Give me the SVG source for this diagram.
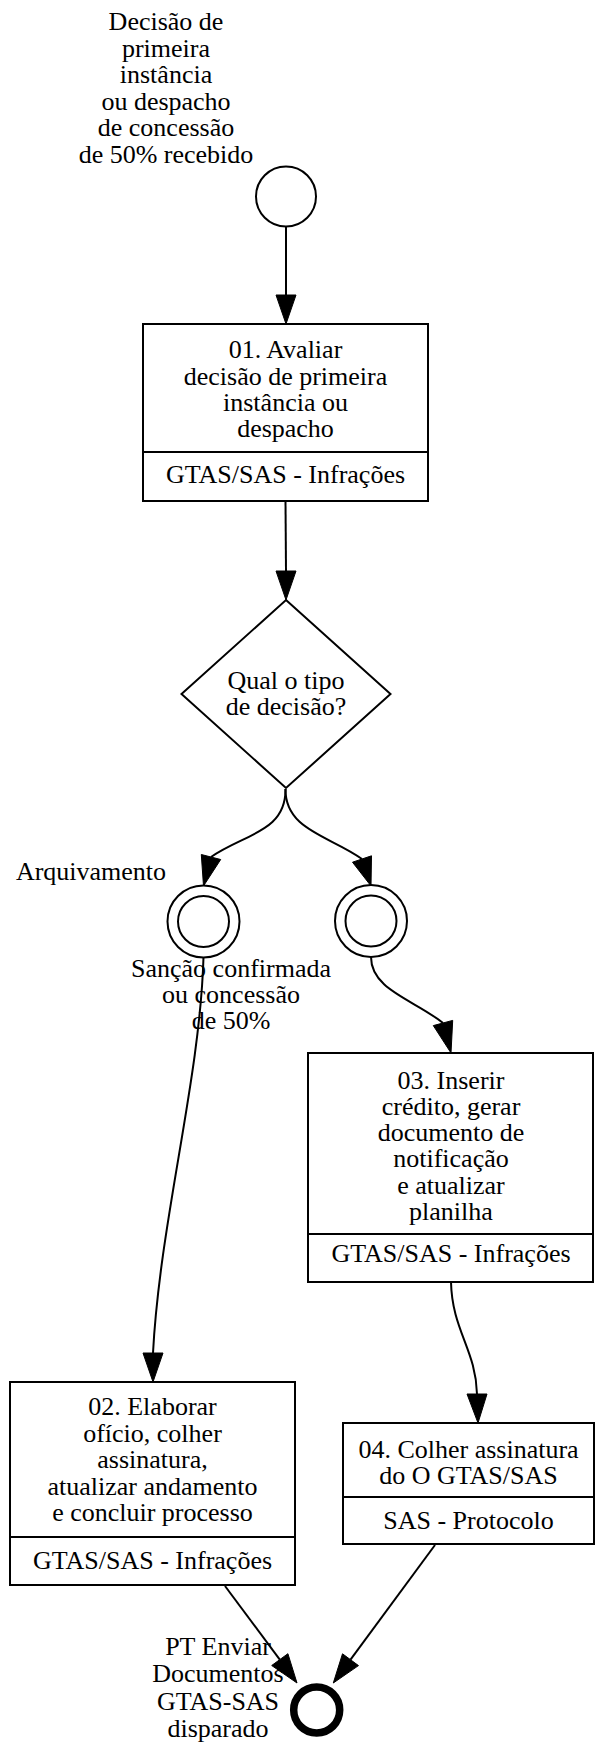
<svg xmlns="http://www.w3.org/2000/svg" width="599" height="1742" viewBox="0 0 599 1742">
<style>
text{font-family:"Liberation Serif","Times New Roman",serif;font-size:26px;fill:#000;text-anchor:middle}
.n{fill:#fff;stroke:#000;stroke-width:2}
.e{fill:none;stroke:#000;stroke-width:2}
.h{fill:#000;stroke:#000;stroke-width:1}
</style>
<rect width="599" height="1742" fill="#fff"/>
<g id="connectors">
<path class="e" d="M286,226.5 L286,295"/>
<polygon class="h" points="276,295 286,324 296,295"/>
<path class="e" d="M285.5,501 L286,571"/>
<polygon class="h" points="276,571 286,600 296,571"/>
<path class="e" d="M285.5,789 C286,832 244,834 211,857"/>
<polygon class="h" points="201.3,854.5 203.5,886 220.7,859.5"/>
<path class="e" d="M285.5,789 C285,830 330,836 362,859"/>
<polygon class="h" points="352.5,862.2 371,886 371.5,855.8"/>
<path class="e" d="M371,957 C371,990 415,1000 443,1023"/>
<polygon class="h" points="433.3,1025.6 451,1053 452.7,1020.4"/>
<path class="e" d="M203.5,957 C200,1080 160,1220 153,1353"/>
<polygon class="h" points="143,1353 153,1382 163,1353"/>
<path class="e" d="M451,1282 C452,1330 476,1350 477,1394"/>
<polygon class="h" points="467,1394 478,1423 487,1394"/>
<path class="e" d="M225,1586 L279.8,1659.6"/>
<polygon class="h" points="271.7,1665.5 297,1683 287.9,1653.7"/>
<path class="e" d="M435,1545 L350.5,1659.7"/>
<polygon class="h" points="342.5,1653.8 333.3,1683 358.5,1665.6"/>
</g>
<g id="start">
<circle class="n" cx="286" cy="196.5" r="30"/>
<text x="166" y="30">Decisão de</text>
<text x="166" y="56.5">primeira</text>
<text x="166" y="83">instância</text>
<text x="166" y="109.5">ou despacho</text>
<text x="166" y="136">de concessão</text>
<text x="166" y="163">de 50% recebido</text>
</g>
<g id="task01">
<rect class="n" x="143" y="324" width="285" height="177"/>
<line class="e" x1="143" y1="452" x2="428" y2="452"/>
<text x="285.5" y="358">01. Avaliar</text>
<text x="285.5" y="384.5">decisão de primeira</text>
<text x="285.5" y="411">instância ou</text>
<text x="285.5" y="437">despacho</text>
<text x="285.5" y="483">GTAS/SAS - Infrações</text>
</g>
<g id="gateway">
<polygon class="n" points="286,600 390.5,694 286,788 181.5,694"/>
<text x="286" y="689">Qual o tipo</text>
<text x="286" y="715">de decisão?</text>
</g>
<g id="event-arquivamento">
<circle class="n" cx="203.5" cy="921.5" r="36"/>
<circle class="n" cx="203.5" cy="921.5" r="25.5"/>
<text x="91" y="880">Arquivamento</text>
</g>
<g id="event-sancao">
<circle class="n" cx="371" cy="921" r="36"/>
<circle class="n" cx="371" cy="921" r="25.5"/>
<text x="231" y="977">Sanção confirmada</text>
<text x="231" y="1003">ou concessão</text>
<text x="231" y="1029">de 50%</text>
</g>
<g id="task03">
<rect class="n" x="308" y="1053" width="285" height="229"/>
<line class="e" x1="308" y1="1234" x2="593" y2="1234"/>
<text x="451" y="1089">03. Inserir</text>
<text x="451" y="1115">crédito, gerar</text>
<text x="451" y="1141">documento de</text>
<text x="451" y="1167">notificação</text>
<text x="451" y="1194">e atualizar</text>
<text x="451" y="1220">planilha</text>
<text x="451" y="1262">GTAS/SAS - Infrações</text>
</g>
<g id="task02">
<rect class="n" x="10" y="1382" width="285" height="203"/>
<line class="e" x1="10" y1="1537" x2="295" y2="1537"/>
<text x="152.5" y="1415">02. Elaborar</text>
<text x="152.5" y="1441.5">ofício, colher</text>
<text x="152.5" y="1468">assinatura,</text>
<text x="152.5" y="1494.5">atualizar andamento</text>
<text x="152.5" y="1521">e concluir processo</text>
<text x="152.5" y="1569">GTAS/SAS - Infrações</text>
</g>
<g id="task04">
<rect class="n" x="343" y="1423" width="251" height="121"/>
<line class="e" x1="343" y1="1497" x2="594" y2="1497"/>
<text x="468.5" y="1458">04. Colher assinatura</text>
<text x="468.5" y="1484">do O GTAS/SAS</text>
<text x="468.5" y="1529">SAS - Protocolo</text>
</g>
<g id="end">
<circle cx="316.7" cy="1710" r="23" fill="#fff" stroke="#000" stroke-width="7.5"/>
<text x="218" y="1655">PT Enviar</text>
<text x="218" y="1682">Documentos</text>
<text x="218" y="1710">GTAS-SAS</text>
<text x="218" y="1737">disparado</text>
</g>
</svg>
